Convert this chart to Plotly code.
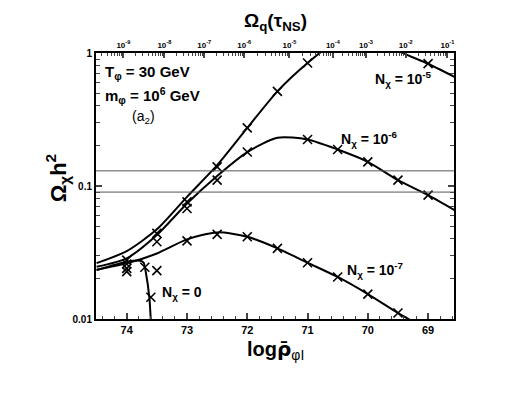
import numpy as np
import plotly.graph_objects as go

# bottom axis: log rho_phiI (reversed), left axis: Omega_chi h^2 (log)
rho_grid = [74.5, 74.0, 73.5, 73.0, 72.5, 72.0, 71.5, 71.0, 70.5, 70.0, 69.5, 69.0, 68.5]

# fitted curves
n5_line = [0.0263, 0.0324, 0.0472, 0.0829, 0.1434, 0.2734, 0.515, 0.841, 1.25, 1.45, 1.04, 0.83, 0.64]
n6_line = [0.0247, 0.0286, 0.0428, 0.0739, 0.119, 0.180, 0.2307, 0.2238, 0.188, 0.152, 0.1106, 0.0854, 0.0635]
n7_line = [0.0235, 0.0262, 0.0311, 0.0397, 0.0448, 0.0415, 0.0340, 0.0265, 0.0207, 0.0154, 0.0111, 0.0082, 0.0060]
n0_x = [74.5, 74.0, 73.78, 73.72, 73.68, 73.625, 73.59]
n0_line = [0.0233, 0.0269, 0.0274, 0.0265, 0.0220, 0.01456, 0.008]

# numerical points (crosses)
n5_px = [74.0, 73.5, 73.0, 72.5, 72.0, 71.5, 71.0, 69.0]
n5_py = [0.0277, 0.0440, 0.0760, 0.1393, 0.2734, 0.515, 0.841, 0.832]
n6_px = [74.0, 73.5, 73.0, 72.5, 72.0, 71.0, 70.5, 70.0, 69.5, 69.0]
n6_py = [0.0259, 0.0381, 0.0678, 0.1106, 0.1803, 0.2238, 0.188, 0.152, 0.1106, 0.0854]
n7_px = [74.0, 73.5, 73.0, 72.5, 72.0, 71.5, 71.0, 70.5, 70.0, 69.5]
n7_py = [0.0240, 0.0231, 0.0387, 0.0433, 0.0415, 0.0340, 0.0265, 0.0207, 0.0154, 0.0111]
n0_px = [74.0, 73.7, 73.6]
n0_py = [0.0227, 0.0245, 0.01456]

# observed relic density band
omega_band = [0.13, 0.09]

# top axis: Omega_q(tau_NS) decades and where they fall on the log rho axis
omega_q_exp = [-9, -8, -7, -6, -5, -4, -3, -2, -1]
omega_q_pos = [74.056, 73.376, 72.713, 72.050, 71.30, 70.58, 70.03, 69.37, 68.68]

x_range = [74.51, 68.57]
FONT = "Liberation Sans, Arial, sans-serif"

fig = go.Figure()
for ys in [n5_line, n6_line, n7_line]:
    fig.add_trace(go.Scatter(x=rho_grid, y=ys, mode="lines", line=dict(color="black", width=2, shape="spline", smoothing=0.7),
                             showlegend=False, hoverinfo="skip"))
fig.add_trace(go.Scatter(x=n0_x, y=n0_line, mode="lines", line=dict(color="black", width=2, shape="spline", smoothing=0.5),
                         showlegend=False, hoverinfo="skip"))
for px_, py_ in [(n5_px, n5_py), (n6_px, n6_py), (n7_px, n7_py), (n0_px, n0_py)]:
    fig.add_trace(go.Scatter(x=px_, y=py_, mode="markers",
                             marker=dict(symbol="x-thin", size=9, line=dict(color="black", width=1.6)),
                             showlegend=False))
# dummy trace so the top axis gets drawn
fig.add_trace(go.Scatter(x=[None], y=[None], xaxis="x2", yaxis="y", showlegend=False))

for b in omega_band:
    fig.add_hline(y=b, line=dict(color="#555555", width=1))

# minor ticks of the top axis (log decades between labelled positions)
pos = np.array(omega_q_pos)
minor_top = []
steps = np.log10(np.arange(2, 10))
for i in range(len(pos) - 1):
    minor_top += list(pos[i] + (pos[i + 1] - pos[i]) * steps)
minor_top += list(pos[0] - (pos[1] - pos[0]) * (1 - steps))
minor_top += list(pos[-1] + (pos[-1] - pos[-2]) * steps)

y_minor = [k * 10.0 ** e for e in (-2, -1) for k in range(2, 10)]

# page body adds an 8px offset, margins compensate for it
fig.update_layout(
    width=526, height=393,
    margin=dict(l=88, r=80, t=45, b=82, autoexpand=False),
    paper_bgcolor="white", plot_bgcolor="white",
    font=dict(family=FONT, color="black"),
    xaxis=dict(range=x_range, tickvals=[74, 73, 72, 71, 70, 69], ticktext=["<b>%d</b>" % v for v in [74, 73, 72, 71, 70, 69]],
               ticks="inside", ticklen=6, tickwidth=1.5, showline=True, linewidth=2, linecolor="black",
               mirror=False, showgrid=False, zeroline=False, tickfont=dict(size=11),
               minor=dict(dtick=0.2, ticks="inside", ticklen=3, tickwidth=1.2, showgrid=False)),
    xaxis2=dict(overlaying="x", side="top", range=x_range, tickmode="array", tickvals=omega_q_pos,
                ticktext=["<b>10<sup>%d</sup></b>" % e for e in omega_q_exp],
                ticks="inside", ticklen=5, tickwidth=1.5, showline=True, linewidth=2, linecolor="black",
                showgrid=False, zeroline=False, tickfont=dict(size=8),
                minor=dict(tickmode="array", tickvals=minor_top, ticks="inside", ticklen=3, tickwidth=1, showgrid=False)),
    yaxis=dict(type="log", range=[-2, 0], tickvals=[0.01, 0.1, 1], ticktext=["<b>0.01</b>", "<b>0.1</b>", "<b>1</b>"],
               ticks="inside", ticklen=6, tickwidth=1.5, showline=True, linewidth=2, linecolor="black",
               mirror="ticks", showgrid=False, zeroline=False, tickfont=dict(size=10),
               minor=dict(tickvals=y_minor, ticks="inside", ticklen=4, tickwidth=1.2, showgrid=False)),
)

def label(x, y, text, size=14, bold=True, xanchor="left"):
    fig.add_annotation(x=x, y=y, xref="x", yref="y", text=("<b>%s</b>" % text) if bold else text,
                       showarrow=False, xanchor=xanchor, yanchor="middle", font=dict(size=size, family=FONT))

label(74.39, -0.145, "T<sub>φ</sub> = 30 GeV", size=15)
label(74.39, -0.318, "m<sub>φ</sub> = 10<sup>6</sup> GeV", size=15)
label(73.95, -0.483, "(a<sub>2</sub>)", size=14, bold=False)
label(69.92, -0.198, "N<sub>χ</sub> = 10<sup>-5</sup>", size=14)
label(70.47, -0.648, "N<sub>χ</sub> = 10<sup>-6</sup>", size=14)
label(70.38, -1.632, "N<sub>χ</sub> = 10<sup>-7</sup>", size=14)
label(73.45, -1.805, "N<sub>χ</sub> = 0", size=14)

fig.add_annotation(x=-0.108, y=0.53, xref="paper", yref="paper", text="<b>Ω<sub>χ</sub>h<sup>2</sup></b>",
                   textangle=-90, showarrow=False, xanchor="center", yanchor="middle", font=dict(size=22, family=FONT))
fig.add_annotation(x=0.5, y=-0.118, xref="paper", yref="paper",
                   text="<b>log<span style='font-family:DejaVu Sans'>ρ̄</span></b><sub>φΙ</sub>",
                   showarrow=False, yanchor="middle", font=dict(size=20, family=FONT))
fig.add_annotation(x=0.5, y=1.0, xref="paper", yref="paper", yshift=31, text="<b>Ω<sub>q</sub>(τ<sub>NS</sub>)</b>",
                   showarrow=False, yanchor="middle", font=dict(size=19, family=FONT))

fig.write_html("out.html")
